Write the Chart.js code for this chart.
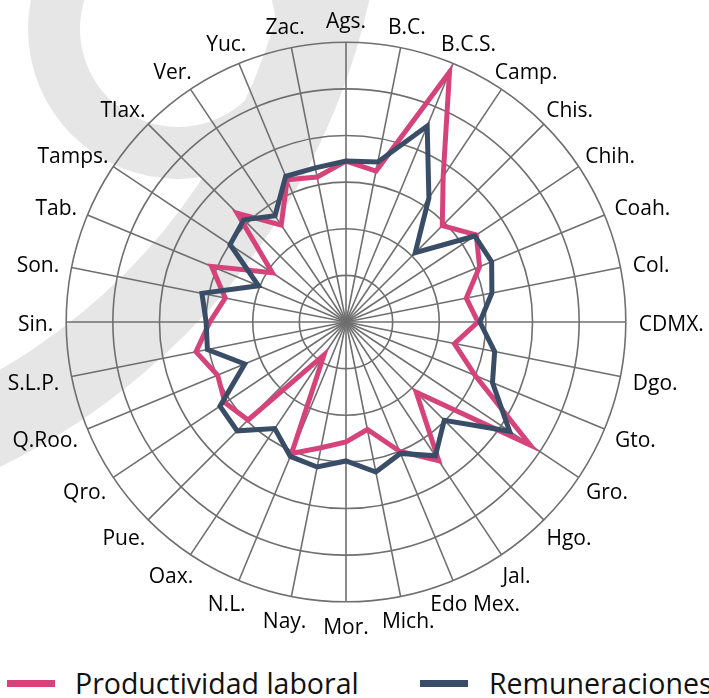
<!DOCTYPE html>
<html>
<head>
<meta charset="utf-8">
<script src="https://cdn.jsdelivr.net/npm/chart.js@4.4.1/dist/chart.umd.min.js"></script>
<style>
  html, body { margin: 0; padding: 0; background: #fff; overflow: hidden; }
  #wrap { position: relative; width: 709px; height: 698px; overflow: hidden; }
  #box { position: absolute; left: 0; top: 0; width: 712px; height: 639px; }
  .sw { position: absolute; width: 48px; height: 7px; top: 680px; }
  .lt { position: absolute; top: 669px; font: 28.5px/28px "Open Sans", sans-serif; color: #111; white-space: nowrap; }
</style>
</head>
<body>
<div id="wrap">
  <div id="box"><canvas id="radarChart"></canvas></div>
  <div class="sw" style="left:7px;background:#d6437b"></div>
  <span class="lt" style="left:75px">Productividad laboral</span>
  <div class="sw" style="left:420px;background:#3a4d66"></div>
  <span class="lt" style="left:489px">Remuneraciones</span>
</div>
<script>
var estados = ["Ags.", "B.C.", "B.C.S.", "Camp.", "Chis.", "Chih.", "Coah.", "Col.",
  "CDMX.", "Dgo.", "Gto.", "Gro.", "Hgo.", "Jal.", "Edo Mex.", "Mich.",
  "Mor.", "Nay.", "N.L.", "Oax.", "Pue.", "Qro.", "Q.Roo.", "S.L.P.",
  "Sin.", "Son.", "Tab.", "Tamps.", "Tlax.", "Ver.", "Yuc.", "Zac."];

var productividad = [3.45, 3.3, 5.8, 3.75, 2.92, 3.36, 3.1, 2.63,
  2.83, 2.37, 3.0, 4.75, 2.13, 3.58, 3.0, 2.35,
  2.57, 2.75, 3.05, 0.85, 2.97, 3.12, 2.98, 3.28,
  2.92, 2.64, 3.12, 1.9, 3.3, 2.5, 3.3, 3.17];

var remuneraciones = [3.45, 3.5, 4.55, 3.2, 2.1, 3.32, 3.38, 3.19,
  2.87, 3.25, 3.4, 4.22, 2.98, 3.45, 3.05, 3.28,
  2.98, 3.17, 3.12, 2.75, 3.3, 3.25, 2.35, 3.03,
  3.0, 3.15, 2.03, 2.99, 3.1, 2.74, 3.38, 3.37];

// light gray logo shape behind the chart
var watermark = {
  id: "watermark",
  beforeDraw: function (chart) {
    var ctx = chart.ctx;
    ctx.save();
    ctx.fillStyle = "#e6e6e6";
    ctx.beginPath();
    ctx.arc(178, 29, 150, 0, Math.PI * 2);
    ctx.arc(178, 29, 98, 0, Math.PI * 2, true);
    ctx.fill();
    ctx.beginPath();
    ctx.arc(-300, -150, 686, 0, Math.PI * 2);
    ctx.arc(-300, -150, 600, 0, Math.PI * 2, true);
    ctx.fill();
    ctx.restore();
  }
};

// state labels: slide sideways by half their width, centred vertically-ish
function placeLabels(scale) {
  var items = scale._pointLabelItems || [];
  var r = scale.drawingArea + 13;
  items.forEach(function (it, i) {
    var a = scale.getIndexAngle(i);
    var s = Math.sin(a), c = Math.cos(a);
    var w = it.right - it.left;
    it.x = scale.xCenter + r * s + (w / 2) * s;
    it.y = scale.yCenter - r * c + 1 - 10 * c + 2 - 12.6;
    it.textAlign = "center";
  });
}

var ctx = document.getElementById("radarChart").getContext("2d");

var chart = new Chart(ctx, {
  type: "radar",
  data: {
    labels: estados,
    datasets: [
      {
        label: "Productividad laboral",
        data: productividad,
        borderColor: "#d6437b",
        borderWidth: 5,
        fill: false,
        pointRadius: 0,
        borderJoinStyle: "miter",
        order: 1,
      },
      {
        label: "Remuneraciones",
        data: remuneraciones,
        borderColor: "#3a4d66",
        borderWidth: 5,
        fill: false,
        pointRadius: 0,
        borderJoinStyle: "miter",
        order: 0,
      },
    ],
  },
  options: {
    responsive: true,
    maintainAspectRatio: false,
    animation: false,
    layout: {
      padding: { top: 7, right: 0, left: 0, bottom: 0 },
    },
    plugins: {
      legend: { display: false },
      tooltip: { enabled: false },
    },
    elements: {
      line: { tension: 0 },
    },
    scales: {
      r: {
        min: 0,
        max: 6,
        afterFit: placeLabels,
        ticks: { display: false, stepSize: 1 },
        grid: { circular: true, color: "#6f6f6f", lineWidth: 1.6 },
        angleLines: { color: "#6f6f6f", lineWidth: 1.6 },
        pointLabels: {
          color: "#000",
          padding: 11,
          font: { family: "'Open Sans'", size: 21 },
        },
      },
    },
  },
  plugins: [watermark],
});
</script>
</body>
</html>
